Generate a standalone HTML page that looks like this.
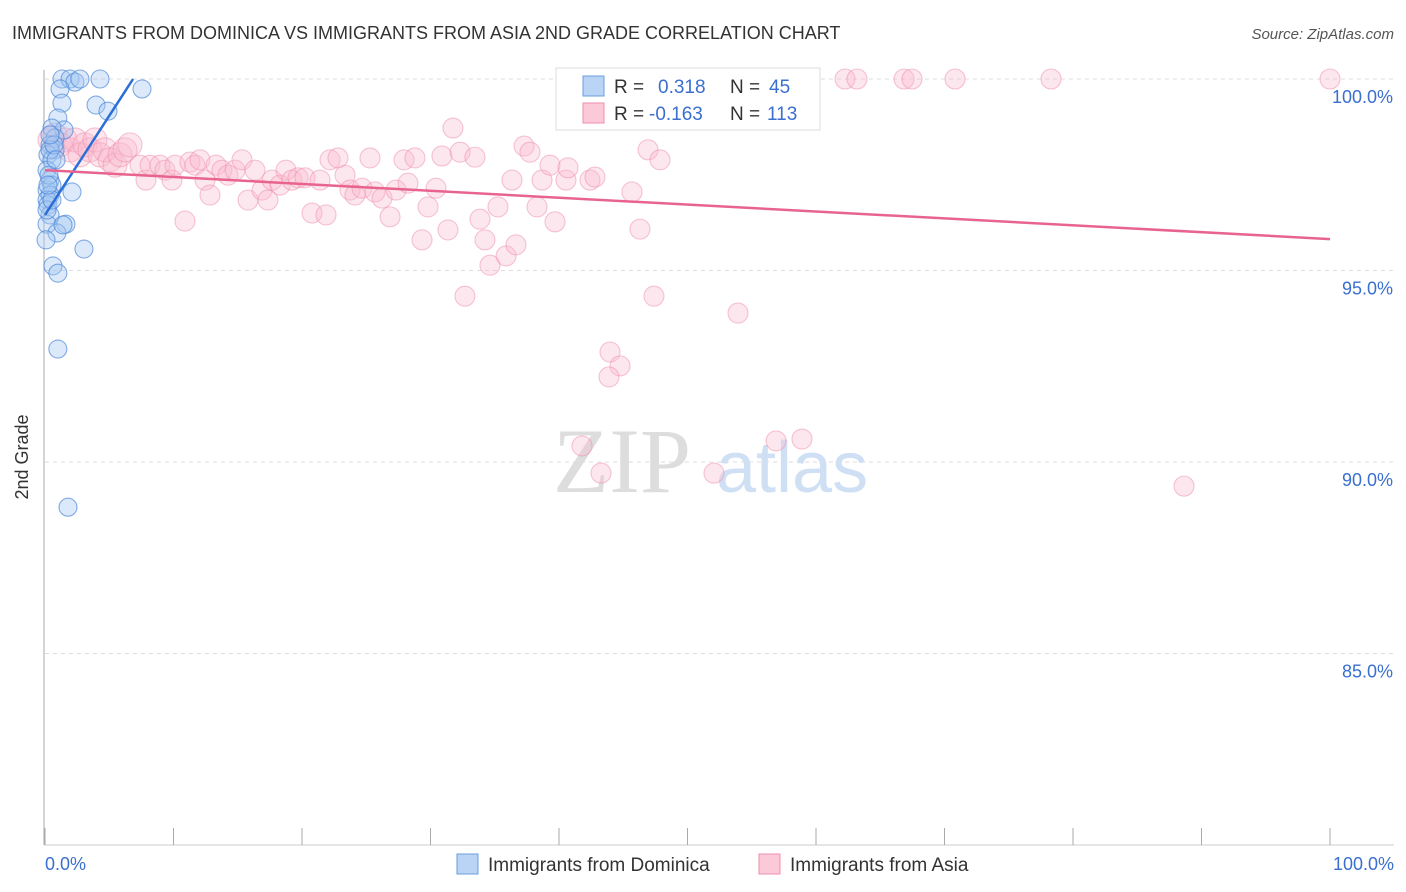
<!DOCTYPE html>
<html><head><meta charset="utf-8"><style>
body{margin:0;background:#fff;font-family:"Liberation Sans",sans-serif}
svg{display:block}
</style></head><body>
<svg id="c" width="1406" height="892">
<text x="12" y="39" font-size="18" fill="#333">IMMIGRANTS FROM DOMINICA VS IMMIGRANTS FROM ASIA 2ND GRADE CORRELATION CHART</text>
<text x="1394" y="39" font-size="15" fill="#555" font-style="italic" text-anchor="end">Source: ZipAtlas.com</text>
<text x="28" y="457" font-size="18" fill="#333" transform="rotate(-90 28 457)" text-anchor="middle">2nd Grade</text>
<g id="grid"></g>
<g><text x="553" y="492" font-size="92" font-family="Liberation Serif,serif" fill="#ddd">ZIP</text><text x="716" y="492" font-size="72" fill="#cfe0f5">atlas</text></g>
<g id="pink"></g><g id="blue"></g><g id="trends"></g>
<g>
<rect x="556" y="68" width="264" height="62" fill="#fff" stroke="#ddd"/>
<rect x="583" y="76" width="21" height="20" fill="#b9d4f5" stroke="#6a9de0"/>
<rect x="583" y="103" width="21" height="20" fill="#fcc9d8" stroke="#ee8fad"/>
<text x="614" y="93" font-size="19" fill="#333">R =</text><text x="658" y="93" font-size="19" fill="#3a6fd0">0.318</text>
<text x="730" y="93" font-size="19" fill="#333">N =</text><text x="769" y="93" font-size="19" fill="#3a6fd0">45</text>
<text x="614" y="120" font-size="19" fill="#333">R =</text><text x="649" y="120" font-size="19" fill="#3a6fd0">-0.163</text>
<text x="730" y="120" font-size="19" fill="#333">N =</text><text x="767" y="120" font-size="19" fill="#3a6fd0">113</text>
</g>
<g>
<rect x="457" y="854" width="21" height="20" fill="#b9d4f5" stroke="#6a9de0"/>
<text x="488" y="871" font-size="19" fill="#333">Immigrants from Dominica</text>
<rect x="759" y="854" width="21" height="20" fill="#fcc9d8" stroke="#ee8fad"/>
<text x="790" y="871" font-size="19" fill="#333">Immigrants from Asia</text>
</g>
</svg>
<script>
const yTicks=[100,95,90,85];
const yTickLabels=["100.0%","95.0%","90.0%","85.0%"];
const xTickLabels=["0.0%","100.0%"];
const blueX=[1.32,1.95,2.33,2.72,4.28,1.17,7.55,1.32,3.97,4.9,1.0,1.48,0.54,0.78,0.39,0.78,0.23,0.54,0.16,0.39,0.16,0.54,0.39,0.16,0.23,0.39,0.16,1.63,0.93,2.1,3.03,0.62,1.0,1.0,1.79,0.39,0.7,0.16,0.31,0.54,1.4,0.86,0.39,0.23,0.08];
const blueY=[100,100,99.92,100,100,99.74,99.74,99.37,99.32,99.16,98.98,98.67,98.72,98.46,98.28,98.15,98.02,97.89,97.62,97.36,97.1,97.23,96.97,96.84,96.71,96.45,96.21,96.21,95.98,97.05,95.56,95.12,94.93,92.95,88.82,98.15,98.28,96.58,97.49,96.84,96.19,97.89,98.54,97.23,95.8];
const pinkX=[0.39,0.78,1.17,1.56,1.95,2.33,2.72,3.11,3.5,3.89,4.28,4.67,5.06,5.45,5.84,6.23,6.61,7.39,7.86,8.17,8.95,9.34,9.88,10.12,10.89,11.28,11.67,12.06,12.45,12.84,13.31,13.77,14.24,14.79,15.33,15.8,16.34,16.89,17.35,17.67,18.29,18.75,19.22,19.69,20.23,20.78,21.4,21.87,22.18,22.8,23.35,23.74,24.12,24.67,25.29,25.68,26.23,26.85,27.32,27.94,28.25,28.79,29.34,29.81,30.43,30.89,31.36,31.75,32.3,32.68,33.46,33.85,34.24,34.63,35.25,35.88,36.34,36.65,37.28,37.74,38.29,38.68,39.3,39.69,40.54,40.7,42.41,42.8,41.79,43.27,43.97,44.75,43.89,45.68,46.3,46.93,47.39,47.86,48.17,50.35,52.06,52.92,53.93,56.89,58.91,62.26,63.19,66.85,67.47,70.82,78.29,88.64,100];
const pinkY=[98.41,98.54,98.28,98.41,98.15,98.41,98.02,98.28,98.15,98.41,98.02,98.15,97.89,97.75,98.02,98.15,98.28,97.75,97.36,97.75,97.75,97.62,97.36,97.75,96.29,97.83,97.75,97.89,97.36,96.97,97.75,97.62,97.49,97.62,97.89,96.84,97.62,97.1,96.84,97.36,97.23,97.62,97.36,97.42,97.42,96.5,97.36,96.45,97.89,97.94,97.49,97.1,96.97,97.15,97.94,97.05,96.89,96.4,97.1,97.89,97.28,97.94,95.8,96.66,97.15,97.99,96.06,98.72,98.09,94.33,97.96,96.34,95.8,95.14,96.66,95.38,97.36,95.67,98.25,98.09,96.66,97.36,97.75,96.27,97.36,97.68,97.36,97.44,90.42,89.71,92.87,92.51,92.22,97.05,96.08,98.15,94.33,97.89,100,98.93,89.71,100,93.89,90.55,90.6,100,100,100,100,100,100,89.37,100];
const blueTrend=[96.45,0.518];
const pinkTrend=[97.62,-0.018];
const NS="http://www.w3.org/2000/svg";
const X=v=>45+v*12.85, Y=v=>79+(100-v)*38.3;
function mk(tag,at,parent){const e=document.createElementNS(NS,tag);for(const k in at)e.setAttribute(k,at[k]);document.getElementById(parent).appendChild(e);return e;}
yTicks.forEach((t,i)=>{
 const l=mk('line',{x1:45,x2:1394,y1:Y(t),y2:Y(t),stroke:'#ddd','stroke-dasharray':'4,4'},'grid');
 
 
 const tx=mk('text',{x:1393,y:Y(t)+24,'font-size':18,fill:'#3a6fd0','text-anchor':'end'},'grid');
 tx.textContent=yTickLabels[i];
 
 
});
const ax=mk('line',{x1:44,x2:44,y1:70,y2:845,stroke:'#aaa'},'grid');


const bx=mk('line',{x1:44,x2:1394,y1:845,y2:845,stroke:'#ccc'},'grid');


for(let i=0;i<=10;i++){
 const t=mk('line',{x1:X(i*10),x2:X(i*10),y1:828,y2:845,stroke:'#aaa'},'grid');
 
 
}
[[0,'start',45],[100,'end',1394]].forEach((d,i)=>{
 const t=mk('text',{x:d[2],y:870,'font-size':18,fill:'#3a6fd0','text-anchor':d[1]},'grid');
 t.textContent=xTickLabels[i];
 
 
});
pinkX.forEach((x,i)=>{
 const c=mk('circle',{cx:X(x),cy:Y(pinkY[i]),r:(x<7?12:10),fill:'rgba(250,185,205,0.35)',stroke:'rgba(238,140,170,0.5)','stroke-width':1.1},'pink');
 
 
});
blueX.forEach((x,i)=>{
 const c=mk('circle',{cx:X(x),cy:Y(blueY[i]),r:9,fill:'rgba(165,200,242,0.4)',stroke:'rgba(70,130,215,0.65)','stroke-width':1.1},'blue');
 
 
});
const bEnd=(100-blueTrend[0])/blueTrend[1];
const bl=mk('line',{x1:X(0),y1:Y(blueTrend[0]),x2:X(bEnd),y2:Y(100),stroke:'#2b6fd6','stroke-width':2.5},'trends');


const pl=mk('line',{x1:X(0),y1:Y(pinkTrend[0]),x2:X(100),y2:Y(pinkTrend[0]+pinkTrend[1]*100),stroke:'#e8648f','stroke-width':2.5},'trends');


</script>
</body></html>
